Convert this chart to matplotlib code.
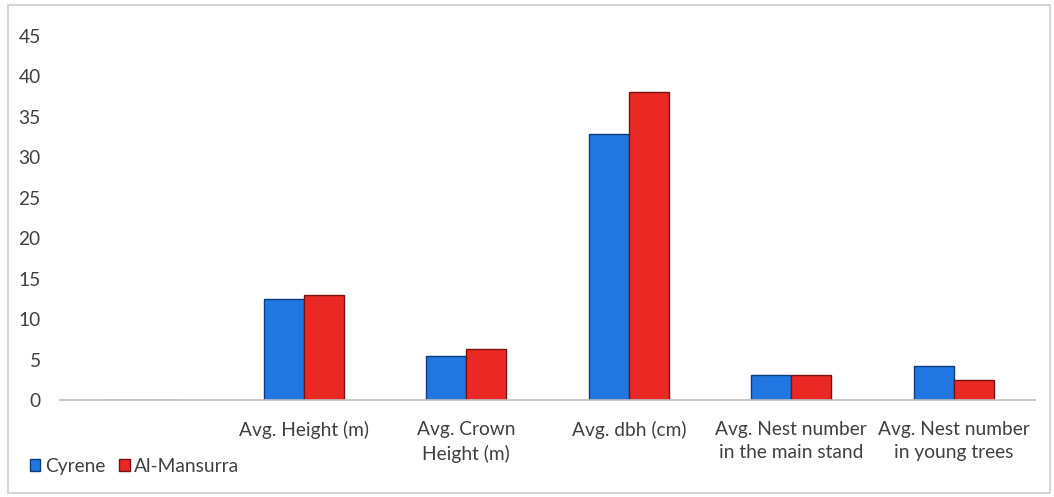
import numpy as np
import matplotlib.pyplot as plt
from matplotlib.patches import Rectangle

plt.rcParams['font.family'] = ['Lato', 'DejaVu Sans']

categories = ['', 'Avg. Height (m)', 'Avg. Crown\nHeight (m)', 'Avg. dbh (cm)',
              'Avg. Nest number\nin the main stand', 'Avg. Nest number\nin young trees']
cyrene = [0, 12.5, 5.4, 32.9, 3.1, 4.2]
mansurra = [0, 13.0, 6.3, 38.0, 3.1, 2.5]
yticks = [0, 5, 10, 15, 20, 25, 30, 35, 40, 45]

fig = plt.figure(figsize=(10.54, 4.97), dpi=100)
ax = fig.add_axes([0.057, 0.195, 0.925, 0.733])

x = np.arange(len(categories))
w = 0.245
ax.bar(x - w / 2, cyrene, w, color='#2177E1', edgecolor='#0D3A7A', linewidth=1.0,
       label='Cyrene')
ax.bar(x + w / 2, mansurra, w, color='#EA2925', edgecolor='#7A1010', linewidth=1.0,
       label='Al-Mansurra')

ax.set_xlim(-0.5, len(categories) - 0.5)
ax.set_ylim(0, 45)
ax.set_yticks(yticks)
ax.set_xticks(x)
ax.set_xticklabels(categories, fontsize=13.8, color='#404040', va='top', linespacing=1.45)
ax.tick_params(axis='x', length=0, pad=15)
ax.tick_params(axis='y', length=0, labelsize=13.8, labelcolor='#404040', pad=14)

for side in ['top', 'right', 'left']:
    ax.spines[side].set_visible(False)
ax.spines['bottom'].set_color('#BFBFBF')
ax.spines['bottom'].set_linewidth(1.2)
ax.spines['bottom'].set_zorder(5)

leg = fig.legend(loc='lower left', bbox_to_anchor=(0.012, 0.01), ncol=2, frameon=False,
                 fontsize=13.8, handlelength=0.55, handleheight=0.55, handletextpad=0.25,
                 columnspacing=0.7, labelcolor='#404040')

# light chart border
fig.patches.append(Rectangle((0.008, 0.008), 0.988, 0.982, transform=fig.transFigure,
                             fill=False, edgecolor='#D0D0D0', linewidth=1.2))

fig.savefig('out.png', dpi=100)
